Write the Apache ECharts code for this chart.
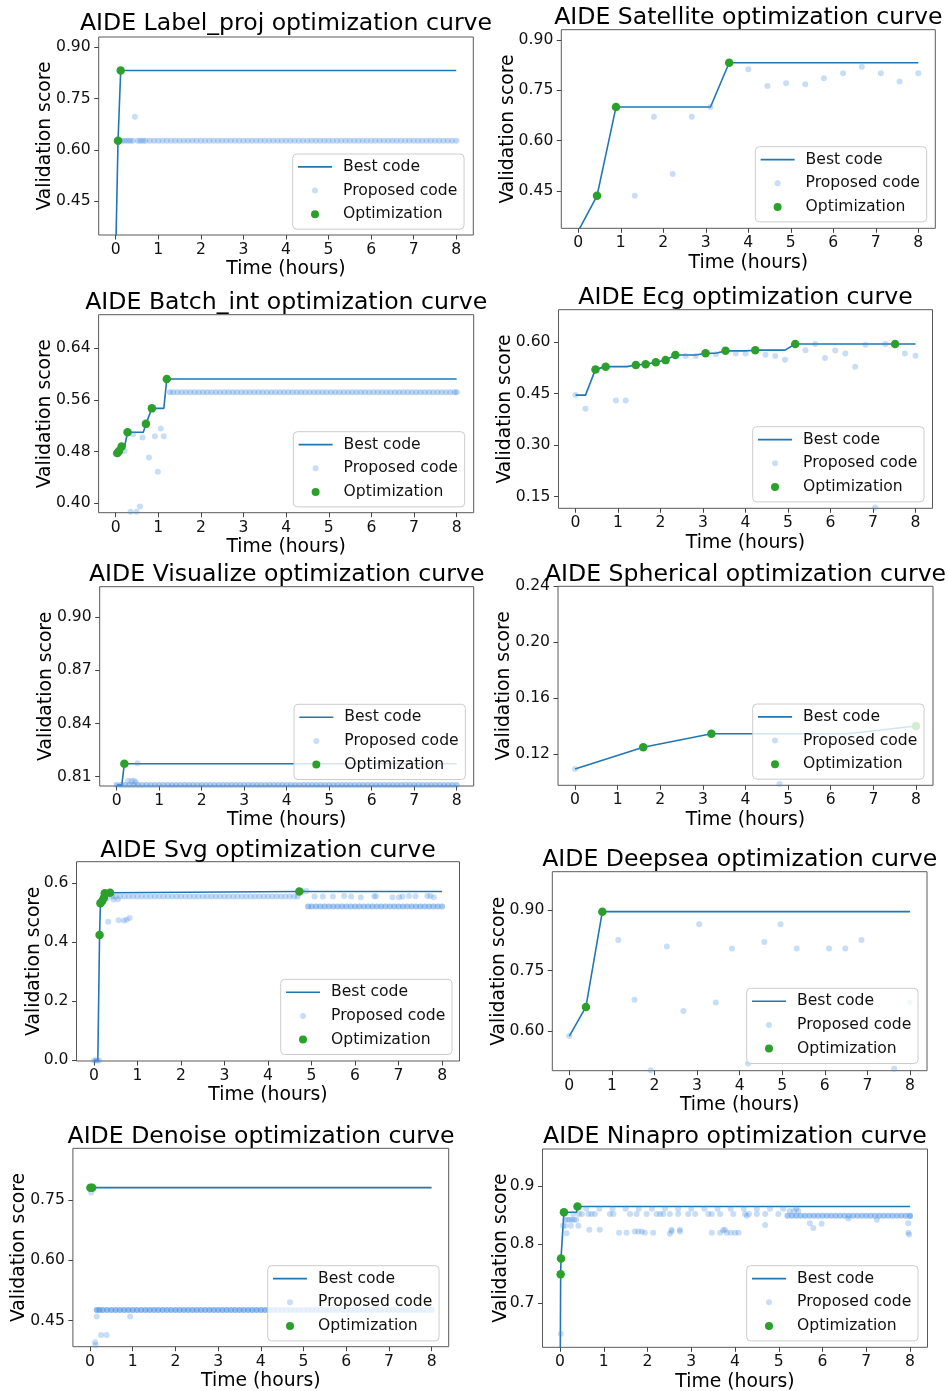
<!DOCTYPE html>
<html><head><meta charset="utf-8">
<script src="https://cdn.jsdelivr.net/npm/echarts@6/dist/echarts.min.js"></script>
<style>html,body{margin:0;padding:0;background:#fff}#c{width:948px;height:1391px}</style>
</head><body><div id="c"></div>
<script>
// ================= DATA =================
const xTicks = [0, 1, 2, 3, 4, 5, 6, 7, 8];

// 1. Label_proj
const p1Title = 'AIDE Label_proj optimization curve';
const p1YTicks = [0.45, 0.60, 0.75, 0.90];
const p1BestT = [0, 0.054, 0.117, 8];
const p1BestV = [0.30, 0.627, 0.832, 0.832];
const p1OptT = [0.054, 0.117];
const p1OptV = [0.627, 0.832];
const p1PropT = [0.054, 0.117, 0.45];
const p1PropV = [0.627, 0.832, 0.697];
const p1RowV = 0.627;
const p1RowT = [0.1,0.16,0.22,0.28,0.34,0.4,0.52,0.58,0.64,0.7,0.8,0.9,1,1.1,1.2,1.3,1.4,1.5,1.6,1.7,1.8,1.9,2,2.1,2.2,2.3,2.4,2.5,2.6,2.7,2.8,2.9,3,3.1,3.2,3.3,3.4,3.5,3.6,3.7,3.8,3.9,4,4.1,4.2,4.3,4.4,4.5,4.6,4.7,4.8,4.9,5,5.1,5.2,5.3,5.4,5.5,5.6,5.7,5.8,5.9,6,6.1,6.2,6.3,6.4,6.5,6.6,6.7,6.8,6.9,7,7.1,7.2,7.3,7.4,7.5,7.6,7.7,7.8,7.9,8];

// 2. Satellite
const p2Title = 'AIDE Satellite optimization curve';
const p2YTicks = [0.45, 0.60, 0.75, 0.90];
const p2BestT = [0, 0.44, 0.887, 3.11, 3.55, 8];
const p2BestV = [0.33, 0.435, 0.70, 0.70, 0.8325, 0.8325];
const p2OptT = [0.44, 0.887, 3.55];
const p2OptV = [0.435, 0.70, 0.8325];
const p2PropT = [0.44, 0.887, 1.33, 1.78, 2.22, 2.67, 3.11, 3.55, 4.0, 4.45, 4.89, 5.34, 5.78, 6.23, 6.67, 7.12, 7.56, 8.0];
const p2PropV = [0.435, 0.70, 0.435, 0.671, 0.50, 0.671, 0.70, 0.8325, 0.813, 0.763, 0.771, 0.768, 0.786, 0.801, 0.82, 0.801, 0.776, 0.801];

// 3. Batch_int
const p3Title = 'AIDE Batch_int optimization curve';
const p3YTicks = [0.40, 0.48, 0.56, 0.64];
const p3BestT = [0, 0.04, 0.08, 0.14, 0.21, 0.28, 0.65, 0.71, 0.85, 1.13, 1.2, 8];
const p3BestV = [0.4765, 0.478, 0.481, 0.488, 0.488, 0.51, 0.51, 0.523, 0.547, 0.547, 0.5925, 0.5925];
const p3OptT = [0.04, 0.08, 0.14, 0.28, 0.71, 0.85, 1.2];
const p3OptV = [0.478, 0.481, 0.488, 0.51, 0.523, 0.547, 0.5925];
const p3PropT = [0, 0.21, 0.35, 0.41, 0.49, 0.57, 0.63, 0.78, 0.92, 0.99, 1.06, 1.13];
const p3PropV = [0.4765, 0.481, 0.387, 0.507, 0.387, 0.395, 0.502, 0.471, 0.504, 0.449, 0.516, 0.504];
const p3RowV = 0.572;
const p3RowT = [1.27,1.35,1.45,1.55,1.65,1.75,1.85,1.95,2.05,2.15,2.25,2.35,2.45,2.55,2.65,2.75,2.85,2.95,3.05,3.15,3.25,3.35,3.45,3.55,3.65,3.75,3.85,3.95,4.05,4.15,4.25,4.35,4.45,4.55,4.65,4.75,4.85,4.95,5.05,5.15,5.25,5.35,5.45,5.55,5.65,5.75,5.85,5.95,6.05,6.15,6.25,6.35,6.45,6.55,6.65,6.75,6.85,6.95,7.05,7.15,7.25,7.35,7.45,7.55,7.65,7.75,7.85,7.95,8];

// 4. Ecg
const p4Title = 'AIDE Ecg optimization curve';
const p4YTicks = [0.15, 0.30, 0.45, 0.60];
const p4BestT = [0, 0.235, 0.47, 0.71, 1.21, 1.42, 1.65, 1.89, 2.12, 2.35, 2.83, 3.06, 3.3, 3.53, 4.0, 4.23, 4.93, 5.17, 7.52, 8];
const p4BestV = [0.446, 0.446, 0.521, 0.529, 0.529, 0.534, 0.536, 0.542, 0.548, 0.563, 0.563, 0.568, 0.568, 0.575, 0.575, 0.577, 0.577, 0.595, 0.595, 0.595];
const p4OptT = [0.47, 0.71, 1.42, 1.65, 1.89, 2.12, 2.35, 3.06, 3.53, 4.23, 5.17, 7.52];
const p4OptV = [0.521, 0.529, 0.534, 0.536, 0.542, 0.548, 0.563, 0.568, 0.575, 0.577, 0.595, 0.595];
const p4PropT = [0, 0.235, 0.95, 1.18, 2.59, 2.83, 3.3, 3.77, 4.0, 4.47, 4.7, 4.93, 5.41, 5.64, 5.87, 6.11, 6.35, 6.58, 6.82, 7.05, 7.29, 7.75, 8.0];
const p4PropV = [0.446, 0.406, 0.43, 0.43, 0.56, 0.56, 0.565, 0.567, 0.567, 0.564, 0.56, 0.549, 0.577, 0.595, 0.554, 0.576, 0.567, 0.529, 0.593, 0.118, 0.595, 0.567, 0.561];

// 5. Visualize
const p5Title = 'AIDE Visualize optimization curve';
const p5YTicks = [0.81, 0.84, 0.87, 0.90];
const p5BestT = [0, 0.12, 0.18, 8];
const p5BestV = [0.8052, 0.8052, 0.8173, 0.8173];
const p5OptT = [0.18];
const p5OptV = [0.8173];
const p5PropT = [0.27, 0.35, 0.41, 0.45, 0.49];
const p5PropV = [0.8076, 0.8075, 0.8077, 0.8068, 0.8175];
const p5RowV = 0.8053;
const p5RowT = [0,0.1,0.2,0.3,0.4,0.5,0.6,0.7,0.8,0.9,1,1.1,1.2,1.3,1.4,1.5,1.6,1.7,1.8,1.9,2,2.1,2.2,2.3,2.4,2.5,2.6,2.7,2.8,2.9,3,3.1,3.2,3.3,3.4,3.5,3.6,3.7,3.8,3.9,4,4.1,4.2,4.3,4.4,4.5,4.6,4.7,4.8,4.9,5,5.1,5.2,5.3,5.4,5.5,5.6,5.7,5.8,5.9,6,6.1,6.2,6.3,6.4,6.5,6.6,6.7,6.8,6.9,7,7.1,7.2,7.3,7.4,7.5,7.6,7.7,7.8,7.9,8];

// 6. Spherical
const p6Title = 'AIDE Spherical optimization curve';
const p6YTicks = [0.12, 0.16, 0.20, 0.24];
const p6BestT = [0, 1.6, 3.2, 4.8, 6.4, 8];
const p6BestV = [0.1093, 0.1248, 0.1345, 0.1345, 0.1345, 0.14];
const p6OptT = [1.6, 3.2, 8];
const p6OptV = [0.1248, 0.1345, 0.14];
const p6PropT = [0, 1.6, 3.2, 4.8, 8];
const p6PropV = [0.1093, 0.1248, 0.1345, 0.0985, 0.14];

// 7. Svg
const p7Title = 'AIDE Svg optimization curve';
const p7YTicks = [0.0, 0.2, 0.4, 0.6];
const p7BestT = [0, 0.09, 0.13, 0.15, 0.19, 0.23, 0.25, 0.37, 4.72, 8];
const p7BestV = [0, 0, 0.425, 0.532, 0.54, 0.551, 0.566, 0.568, 0.572, 0.572];
const p7OptT = [0.13, 0.15, 0.19, 0.23, 0.25, 0.37, 4.72];
const p7OptV = [0.425, 0.532, 0.54, 0.551, 0.566, 0.568, 0.572];
const p7PropT = [0, 0.04, 0.08, 0.12, 0.33, 0.57, 0.69, 0.75, 0.82, 0.3, 0.45, 0.55, 4.78, 4.88, 5.07, 5.26, 5.49, 5.75, 5.91, 6.13, 6.44, 6.48, 6.86, 7.01, 7.09, 7.24, 7.39, 7.66, 7.73, 7.81];
const p7PropV = [0, 0, 0, 0, 0.47, 0.475, 0.474, 0.476, 0.482, 0.548, 0.545, 0.546, 0.574, 0.574, 0.555, 0.555, 0.555, 0.557, 0.555, 0.553, 0.556, 0.556, 0.553, 0.553, 0.555, 0.557, 0.556, 0.557, 0.557, 0.553];
const p7RowAV = 0.555;
const p7RowAT = [0.42,0.5,0.6,0.7,0.8,0.9,1,1.1,1.2,1.3,1.4,1.5,1.6,1.7,1.8,1.9,2,2.1,2.2,2.3,2.4,2.5,2.6,2.7,2.8,2.9,3,3.1,3.2,3.3,3.4,3.5,3.6,3.7,3.8,3.9,4,4.1,4.2,4.3,4.4,4.5,4.6,4.68];
const p7RowBV = 0.521;
const p7RowBT = [4.92,5,5.1,5.2,5.3,5.4,5.5,5.6,5.7,5.8,5.9,6,6.1,6.2,6.3,6.4,6.5,6.6,6.7,6.8,6.9,7,7.1,7.2,7.3,7.4,7.5,7.6,7.7,7.8,7.9,8];

// 8. Deepsea
const p8Title = 'AIDE Deepsea optimization curve';
const p8YTicks = [0.60, 0.75, 0.90];
const p8BestT = [0, 0.39, 0.775, 8];
const p8BestV = [0.5876, 0.66, 0.896, 0.896];
const p8OptT = [0.39, 0.775];
const p8OptV = [0.66, 0.896];
const p8PropT = [0, 0.39, 0.775, 1.15, 1.53, 1.91, 2.29, 2.68, 3.05, 3.44, 3.82, 4.2, 4.58, 4.96, 5.34, 6.1, 6.48, 6.86, 7.24, 7.63, 8.0];
const p8PropV = [0.588, 0.66, 0.896, 0.826, 0.678, 0.503, 0.81, 0.65, 0.865, 0.671, 0.805, 0.52, 0.821, 0.865, 0.805, 0.805, 0.805, 0.826, 0.539, 0.507, 0.671];

// 9. Denoise
const p9Title = 'AIDE Denoise optimization curve';
const p9YTicks = [0.45, 0.60, 0.75];
const p9BestT = [0, 8];
const p9BestV = [0.781, 0.781];
const p9OptT = [0.01, 0.05];
const p9OptV = [0.781, 0.781];
const p9PropT = [0.03, 0.12, 0.13, 0.16, 0.26, 0.39, 0.94];
const p9PropV = [0.769, 0.396, 0.389, 0.46, 0.414, 0.414, 0.46];
const p9RowV = 0.4766;
const p9RowT = [0.16,0.22,0.3,0.4,0.5,0.6,0.7,0.8,0.9,1,1.1,1.2,1.3,1.4,1.5,1.6,1.7,1.8,1.9,2,2.1,2.2,2.3,2.4,2.5,2.6,2.7,2.8,2.9,3,3.1,3.2,3.3,3.4,3.5,3.6,3.7,3.8,3.9,4,4.1,4.2,4.3,4.4,4.5,4.6,4.7,4.8,4.9,5,5.1,5.2,5.3,5.4,5.5,5.6,5.7,5.8,5.9,6,6.1,6.2,6.3,6.4,6.5,6.6,6.7,6.8,6.9,7,7.1,7.2,7.3,7.4,7.5,7.6,7.7,7.8,7.9,8];

// 10. Ninapro
const p10Title = 'AIDE Ninapro optimization curve';
const p10YTicks = [0.7, 0.8, 0.9];
const p10BestT = [0, 0.015, 0.023, 0.09, 0.38, 0.40, 8];
const p10BestV = [0.5, 0.749, 0.776, 0.855, 0.855, 0.8646, 0.8646];
const p10OptT = [0.015, 0.023, 0.09, 0.40];
const p10OptV = [0.749, 0.776, 0.855, 0.8646];
const p10PropT = [0.02,0.07,0.12,0.17,0.22,0.27,0.32,0.37,0.12,0.25,0.42,0.15,0.3,0.43,0.5,0.65,0.72,0.8,1.14,1.22,1.6,1.75,1.98,2.21,2.29,2.36,2.51,2.7,2.93,3.09,3.39,3.47,3.66,3.96,4.23,4.5,4.69,4.99,
  0.6,0.9,1.2,1.5,1.8,2.1,2.4,2.7,3.0,3.3,3.6,3.9,4.2,4.5,4.8,5.1,5.4,
  0.67,0.91,1.35,1.52,1.71,1.79,1.87,1.94,2.13,2.51,2.55,2.74,3.47,3.66,3.73,3.81,3.9,4.0,4.08,2.55,2.74,3.77,
  4.27,4.32,4.69,5.71,5.79,5.98,6.59,7.24,7.96,7.96,7.98,8.0,5.25,5.35,5.45];
const p10PropV = [0.647,0.832,0.842,0.842,0.842,0.842,0.842,0.842,0.832,0.832,0.832,0.819,0.852,0.852,0.852,0.852,0.852,0.852,0.852,0.852,0.852,0.852,0.852,0.852,0.852,0.852,0.852,0.852,0.852,0.852,0.852,0.852,0.852,0.852,0.852,0.852,0.852,0.852,
  0.861,0.861,0.861,0.861,0.861,0.861,0.861,0.861,0.861,0.861,0.861,0.861,0.861,0.861,0.861,0.861,0.861,
  0.825,0.825,0.82,0.82,0.822,0.822,0.822,0.82,0.82,0.818,0.822,0.822,0.82,0.82,0.824,0.82,0.82,0.82,0.82,0.825,0.825,0.825,
  0.849,0.852,0.833,0.836,0.828,0.835,0.844,0.842,0.836,0.82,0.817,0.848,0.857,0.857,0.857];
const p10RowV = 0.8487;
const p10RowT = [5.2,5.3,5.4,5.5,5.6,5.7,5.8,5.9,6,6.1,6.2,6.3,6.4,6.5,6.6,6.7,6.8,6.9,7,7.1,7.2,7.3,7.4,7.5,7.6,7.7,7.8,7.9,8];

// ================= LAYOUT / STYLE =================
const FONT = 'DejaVu Sans';
const C_BEST = '#1f77b4', C_OPT = '#2ca02c';
const PROP_RGB = '74,144,226';
const C_PROP = 'rgba(' + PROP_RGB + ',0.3)';

function zip(t, v) { return t.map((x, i) => [x, v[i]]); }
function row(t, v) { return t.map(x => [x, v]); }

// rows: [points, band opacity (overlap density look)]
const panels = [
  {title:p1Title, yTicks:p1YTicks, dec:2, best:zip(p1BestT,p1BestV), opt:zip(p1OptT,p1OptV), prop:zip(p1PropT,p1PropV),
   rows:[[row(p1RowT,p1RowV),0.36]],
   L:{left:98.7, top:37, width:374.6, height:198, yMin:0.352, yMax:0.930, leg:[292.7,154], tx:286, ty:11.5, gap:44}},
  {title:p2Title, yTicks:p2YTicks, dec:2, best:zip(p2BestT,p2BestV), opt:zip(p2OptT,p2OptV), prop:zip(p2PropT,p2PropV),
   rows:[],
   L:{left:561.3, top:29.7, width:374, height:198.6, yMin:0.338, yMax:0.931, leg:[755.3,146.7], tx:748.3, ty:5.5, gap:44}},
  {title:p3Title, yTicks:p3YTicks, dec:2, best:zip(p3BestT,p3BestV), opt:zip(p3OptT,p3OptV), prop:zip(p3OptT,p3OptV).concat(zip(p3PropT,p3PropV)),
   rows:[[row(p3RowT,p3RowV),0.38]],
   L:{left:98.6, top:314.7, width:375.1, height:198, yMin:0.3855, yMax:0.692, leg:[293.3,431.7], tx:286.2, ty:290.5, gap:44}},
  {title:p4Title, yTicks:p4YTicks, dec:2, best:zip(p4BestT,p4BestV), opt:zip(p4OptT,p4OptV), prop:zip(p4OptT,p4OptV).concat(zip(p4PropT,p4PropV)),
   rows:[],
   L:{left:558.5, top:309.7, width:374, height:198.6, yMin:0.116, yMax:0.695, leg:[752.7,426.7], tx:745.5, ty:285.5, gap:44}},
  {title:p5Title, yTicks:p5YTicks, dec:2, best:zip(p5BestT,p5BestV), opt:zip(p5OptT,p5OptV), prop:zip(p5OptT,p5OptV).concat(zip(p5PropT,p5PropV)),
   rows:[[row(p5RowT,p5RowV),0.45]],
   L:{left:99.7, top:586.7, width:374, height:199.3, yMin:0.8047, yMax:0.9173, leg:[294,704.3], tx:286.7, ty:562.5, gap:44}},
  {title:p6Title, yTicks:p6YTicks, dec:2, best:zip(p6BestT,p6BestV), opt:zip(p6OptT,p6OptV), prop:zip(p6PropT,p6PropV),
   rows:[],
   L:{left:558, top:586.3, width:375, height:199, yMin:0.0976, yMax:0.24, leg:[752.7,704], tx:745.5, ty:562.5, gap:44}},
  {title:p7Title, yTicks:p7YTicks, dec:1, best:zip(p7BestT,p7BestV), opt:zip(p7OptT,p7OptV), prop:zip(p7OptT,p7OptV).concat(zip(p7PropT,p7PropV)),
   rows:[[row(p7RowAT,p7RowAV),0.34],[row(p7RowBT,p7RowBV),0.5]],
   L:{left:76.5, top:861.7, width:383, height:199.3, yMin:-0.002, yMax:0.673, leg:[280.7,979.3], tx:268, ty:838.5, gap:32.5}},
  {title:p8Title, yTicks:p8YTicks, dec:2, best:zip(p8BestT,p8BestV), opt:zip(p8OptT,p8OptV), prop:zip(p8PropT,p8PropV),
   rows:[],
   L:{left:552.3, top:871.7, width:374.7, height:199, yMin:0.502, yMax:0.995, leg:[746.7,988.3], tx:739.7, ty:847.5, gap:44}},
  {title:p9Title, yTicks:p9YTicks, dec:2, best:zip(p9BestT,p9BestV), opt:zip(p9OptT,p9OptV), prop:zip(p9OptT,p9OptV).concat(zip(p9PropT,p9PropV)),
   rows:[[row(p9RowT,p9RowV),0.62]],
   L:{left:72.9, top:1148.3, width:375.8, height:198.4, yMin:0.385, yMax:0.879, leg:[267.7,1265.7], tx:261, ty:1124.5, gap:44}},
  {title:p10Title, yTicks:p10YTicks, dec:1, best:zip(p10BestT,p10BestV), opt:zip(p10OptT,p10OptV), prop:zip(p10OptT,p10OptV).concat(zip(p10PropT,p10PropV)),
   rows:[[row(p10RowT,p10RowV),0.5]],
   L:{left:542.5, top:1149, width:385, height:198.3, yMin:0.624, yMax:0.963, leg:[746.7,1265.7], tx:735, ty:1124.5, gap:32}}
];

const ICON_LINE = 'path://M0,0M40,14M0,6.2L34,6.2L34,7.8L0,7.8Z';
const ICON_PROP = 'path://M0,0M40,14M14,7A3,3,0,1,0,20,7A3,3,0,1,0,14,7Z';
const ICON_OPT = 'path://M0,0M40,14M13,7A4,4,0,1,0,21,7A4,4,0,1,0,13,7Z';

const option = {
  animation: false,
  backgroundColor: '#ffffff',
  title: [], grid: [], xAxis: [], yAxis: [], legend: [], series: []
};

panels.forEach((p, i) => {
  const L = p.L;
  option.title.push({
    text: p.title, left: L.tx, top: L.ty, textAlign: 'center', padding: 0,
    textStyle: {fontFamily: FONT, fontSize: 23.6, fontWeight: 'normal', color: '#000'}
  });
  option.grid.push({
    left: L.left, top: L.top, width: L.width, height: L.height,
    show: true, borderColor: '#5a5a5a', borderWidth: 1, backgroundColor: 'transparent',
    containLabel: false, outerBoundsMode: 'none'
  });
  option.xAxis.push({
    type: 'value', gridIndex: i, min: -0.4, max: 8.4,
    name: 'Time (hours)', nameLocation: 'middle', nameGap: 25,
    nameTextStyle: {fontFamily: FONT, fontSize: 18.8, color: '#000'},
    axisLine: {show: false, onZero: false},
    axisTick: {show: true, inside: false, length: 4.5, lineStyle: {color: '#444'}, customValues: xTicks},
    axisLabel: {show: true, customValues: xTicks, margin: 7, fontFamily: FONT, fontSize: 15.6, color: '#111',
      formatter: v => String(v)},
    splitLine: {show: false}
  });
  option.yAxis.push({
    type: 'value', gridIndex: i, min: L.yMin, max: L.yMax,
    name: 'Validation score', nameLocation: 'middle', nameGap: L.gap, nameRotate: 90,
    nameMoveOverlap: false,
    nameTextStyle: {fontFamily: FONT, fontSize: 18.8, color: '#000'},
    axisLine: {show: false, onZero: false},
    axisTick: {show: true, inside: false, length: 4.5, lineStyle: {color: '#444'}, customValues: p.yTicks},
    axisLabel: {show: true, customValues: p.yTicks, margin: 8, fontFamily: FONT, fontSize: 15.6, color: '#111',
      formatter: v => Number(v).toFixed(p.dec)},
    splitLine: {show: false}
  });
  option.legend.push({
    orient: 'vertical', left: L.leg[0], top: L.leg[1], z: 20,
    itemWidth: 40, itemHeight: 14, itemGap: 7.7,
    padding: [4.9, 6.7, 6.9, 5.3],
    backgroundColor: 'rgba(255,255,255,0.8)', borderColor: '#cccccc', borderWidth: 1, borderRadius: 4,
    selectedMode: false,
    textStyle: {fontFamily: FONT, fontSize: 15.6, color: '#111'},
    data: [
      {name: 'Best code', icon: ICON_LINE, itemStyle: {color: C_BEST, borderWidth: 0, opacity: 1}},
      {name: 'Proposed code', icon: ICON_PROP, itemStyle: {color: C_PROP, borderWidth: 0, opacity: 1}},
      {name: 'Optimization', icon: ICON_OPT, itemStyle: {color: C_OPT, borderWidth: 0, opacity: 1}}
    ]
  });
  option.series.push({
    type: 'line', name: 'Best code', xAxisIndex: i, yAxisIndex: i,
    data: p.best, symbol: 'none', showSymbol: false, clip: true, silent: true,
    lineStyle: {color: C_BEST, width: 1.6, opacity: 1}, itemStyle: {color: C_BEST}, z: 1
  });
  p.rows.forEach(r => {
    option.series.push({
      type: 'scatter', name: 'Proposed code', xAxisIndex: i, yAxisIndex: i,
      data: r[0], symbolSize: 6, clip: true, silent: true,
      itemStyle: {color: 'rgba(' + PROP_RGB + ',' + r[1] + ')', borderWidth: 0, opacity: 1}, z: 2
    });
  });
  option.series.push({
    type: 'scatter', name: 'Proposed code', xAxisIndex: i, yAxisIndex: i,
    data: p.prop, symbolSize: 6, clip: true, silent: true,
    itemStyle: {color: C_PROP, borderWidth: 0, opacity: 1}, z: 2
  });
  option.series.push({
    type: 'scatter', name: 'Optimization', xAxisIndex: i, yAxisIndex: i,
    data: p.opt, symbolSize: 8.5, clip: true, silent: true,
    itemStyle: {color: C_OPT, borderWidth: 0, opacity: 1}, z: 3
  });
});

const chart = echarts.init(document.getElementById('c'), null, {renderer: 'canvas', width: 948, height: 1391});
chart.setOption(option);
</script>
</body></html>
